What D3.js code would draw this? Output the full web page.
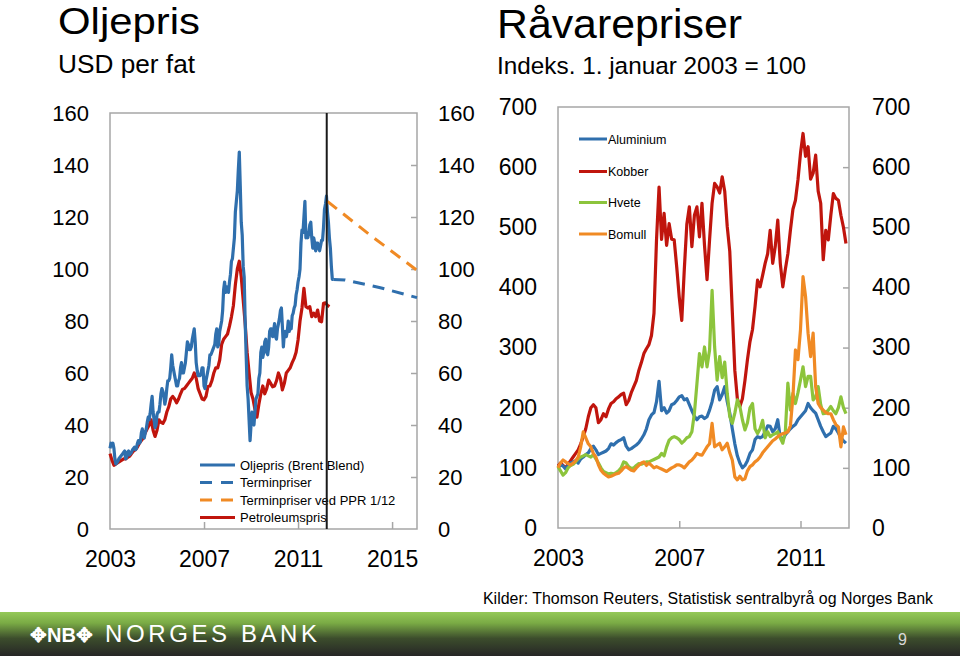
<!DOCTYPE html>
<html><head><meta charset="utf-8">
<script src="https://cdn.jsdelivr.net/npm/d3@7"></script>
<style>
body{margin:0;background:#fff}
svg{display:block}
text{font-family:"Liberation Sans",Arial,sans-serif;fill:#000}
</style>
</head><body>
<svg id="c" width="960" height="656"></svg>
<script>
// ---------------- DATA ----------------
// Left chart: Oljepris (Brent Blend), USD per fat, semi-monthly from Jan 2003
const brentStart = 2003, brentStep = 1/24;
const brent = [
 31,33,32,33,31,27,25,25.5,26,27,27.5,28,28.5,29,29.5,30,27,27.5,29.5,30,28.5,29,29.5,30.5,
 31,31.5,30.5,31,33,34,33,33.5,37,38.5,36,35,37,38.5,41,43,42,44.5,48,51,45,42,39,40,
 44,45,45,48,52,54,53,51,48,50,54,57,57,58,62,67,63,61,59,57,55,55,57,58,
 62,64,60,60,62,64,68,72,71,69,69,70,73,75,77,72,64,61,59,59,59,60,62,62,
 55,54,57,59,61,63,67,67,68,69,70,71,75,77,70,71,76,78,80,84,92,95,91,93,
 93,91,95,98,103,104,108,112,122,126,130,138,145,132,118,113,101,97,80,67,55,50,42,34,
 40,45,41,40,45,50,51,52,58,60,68,70,66,68,72,73,68,67,70,76,77,77,74,76,
 79,74,73,77,79,81,84,85,78,70,75,76,74,76,80,76,78,77,82,83,85,86,90,92,
 95,97,100,110,115,114,120,126,112,114,112,114,117,118,112,108,112,110,107,110,110,108,107,109,
 111,111,116,123,125,128,122,118,112,108,101,96,96
];
// Petroleumspris, monthly from Jan 2003
const petroStart = 2003, petroStep = 1/12;
const petro = [
 29,26.5,24.5,25,25.5,26,26.5,27,27,27.5,28,29,
 30,30.5,31.5,33,34,35,37,38.5,40,42,38,35.6,
 38,42,41,40.6,42,45,47,50,51,50,48.5,50,
 52,53.7,54,55,56,57,58,60,58,54,52,50,
 49.7,51,54.8,55,57,60,62,62,65,71,73,74,
 75,78,81.6,86,94,100,103,97,88,79,68,60,
 52.5,50,46,43,48,52,55,52,54,57.3,56,54.7,
 55,57,60,58,53.5,56,60,61,62,64,65.6,68,
 72.7,80,85,92.6,85.5,85,85.5,81.7,83,81.7,84.2,80,
 79.7,86.8,87,86,85.5
];
// Terminpriser (forward curve) and Terminpriser ved PPR 1/12
const futDates = [2012.5, 2013.0, 2014.5, 2016.06];
const futValues = [96, 95.8, 92.8, 89];
const pprFutDates = [2012.25, 2014.0, 2016.06];
const pprFutValues = [126, 113.5, 99.5];
const pprDate = 2012.22;

const leftYTicks = [0,20,40,60,80,100,120,140,160];
const leftXTicks = [2003,2007,2011,2015];

// Right chart: Råvarepriser, index 1 Jan 2003 = 100, monthly from Jan 2003
const comStart = 2003, comStep = 1/12;
const aluminium = [
 100,105,103,98,104,108,110,112,108,115,118,122,
 125,132,136,130,122,124,126,128,132,140,138,142,
 145,147,150,136,130,132,135,138,142,148,155,165,
 180,188,192,210,244,195,200,191,195,205,207,212,
 218,220,213,215,205,195,186,180,185,186,182,185,
 196,210,229,235,213,222,235,210,191,165,140,120,
 108,100,104,112,124,130,147,152,150,152,160,170,
 169,160,165,180,150,147,155,160,165,169,172,180,
 185,190,195,207,200,195,191,180,169,160,152,155,
 158,169,165,158,150,145,141
];
const kobber = [
 103,108,104,100,106,112,118,124,130,140,152,165,
 185,200,205,200,175,180,190,185,198,207,210,215,
 218,222,224,205,212,225,235,245,262,275,290,298,
 305,320,357,479,567,480,523,470,506,480,479,434,
 384,345,430,505,534,468,520,534,484,540,470,413,
 479,540,573,567,557,584,560,501,460,360,262,215,
 202,215,245,280,310,330,368,412,401,420,440,456,
 495,440,468,512,440,401,430,456,495,530,545,579,
 623,656,618,634,580,590,620,560,540,446,495,479,
 520,556,548,545,520,500,473
];
const hvete = [
 102,95,88,92,100,104,106,110,115,118,120,122,
 120,118,122,115,108,100,94,92,90,91,90,92,
 95,100,110,108,102,99,100,104,107,106,108,110,
 110,112,114,116,118,124,120,135,146,150,152,150,
 147,141,145,150,152,160,191,240,290,268,301,268,
 296,395,301,246,285,250,276,224,185,174,191,213,
 202,180,163,175,200,207,165,157,165,179,150,160,
 152,155,157,160,150,141,160,241,196,224,207,225,
 246,268,235,252,252,213,218,235,205,190,191,196,
 202,195,190,200,218,200,190
];
const bomull = [
 100,108,113,110,107,105,108,112,118,135,160,150,
 140,135,124,118,105,96,91,88,85,86,88,90,
 91,95,100,102,99,96,95,100,104,108,110,104,
 108,104,100,102,100,98,96,94,97,100,102,105,
 105,103,100,105,110,113,118,124,122,121,128,135,
 140,174,135,138,141,130,135,141,125,113,85,80,
 86,80,82,95,102,105,110,113,118,125,130,135,
 140,145,148,152,155,157,158,160,170,218,296,280,
 330,418,385,324,285,324,235,207,200,196,192,190,
 190,180,172,168,135,168,155
];
const rightYTicks = [0,100,200,300,400,500,600,700];
const rightXTicks = [2003,2007,2011];

const oilLegend = ["Oljepris (Brent Blend)","Terminpriser","Terminpriser ved PPR 1/12","Petroleumspris"];
const comLegend = ["Aluminium","Kobber","Hvete","Bomull"];

// ---------------- STYLE ----------------
const C = {blue:"#2f6fad", red:"#c0150d", orange:"#f08a24", green:"#8cc43c", axis:"#a6a6a6"};
const svg = d3.select("#c");

const defs = svg.append("defs");
const g1 = defs.append("linearGradient").attr("id","band").attr("x1",0).attr("y1",0).attr("x2",0).attr("y2",1);
g1.append("stop").attr("offset","0%").attr("stop-color","#95c958");
g1.append("stop").attr("offset","25%").attr("stop-color","#7aab45");
g1.append("stop").attr("offset","60%").attr("stop-color","#3c4d2c");
g1.append("stop").attr("offset","100%").attr("stop-color","#262626");

// ---------------- TITLES ----------------
svg.append("text").attr("x",58).attr("y",34).attr("font-size",37)
  .attr("textLength",142).attr("lengthAdjust","spacingAndGlyphs").text("Oljepris");
svg.append("text").attr("x",58).attr("y",73).attr("font-size",25.5)
  .attr("textLength",137).attr("lengthAdjust","spacingAndGlyphs").text("USD per fat");
svg.append("text").attr("x",497).attr("y",38).attr("font-size",40)
  .attr("textLength",245).attr("lengthAdjust","spacingAndGlyphs").text("Råvarepriser");
svg.append("text").attr("x",497).attr("y",74).attr("font-size",24.3)
  .attr("textLength",309).attr("lengthAdjust","spacingAndGlyphs").text("Indeks. 1. januar 2003 = 100");

// ---------------- LEFT CHART ----------------
const L = {x0:110, x1:417, y0:113, y1:529};
const xL = d3.scaleLinear().domain([2003, 2016.06]).range([L.x0, L.x1]);
const yL = d3.scaleLinear().domain([0,160]).range([L.y1, L.y0]);
const FONT = "Liberation Sans, Arial, sans-serif";

const gl = svg.append("g");
gl.append("g").attr("transform",`translate(${L.x1},0)`)
  .call(d3.axisRight(yL).tickValues(leftYTicks.slice(1,-1)).tickSize(-6).tickFormat(""))
  .call(g=>{g.select(".domain").remove(); g.selectAll("line").attr("stroke",C.axis).attr("stroke-width",1.5);});
gl.append("g").attr("transform",`translate(0,${L.y1})`)
  .call(d3.axisBottom(xL).tickValues(leftXTicks.slice(1)).tickSize(-7).tickFormat(""))
  .call(g=>{g.select(".domain").remove(); g.selectAll("line").attr("stroke",C.axis).attr("stroke-width",1.5);});
gl.append("rect").attr("x",L.x0).attr("y",L.y0).attr("width",L.x1-L.x0).attr("height",L.y1-L.y0)
  .attr("fill","none").attr("stroke",C.axis).attr("stroke-width",1.5);
gl.append("g").attr("transform",`translate(89,0)`)
  .call(d3.axisLeft(yL).tickValues(leftYTicks).tickSize(0).tickPadding(0))
  .call(g=>{g.select(".domain").remove(); g.selectAll("text").attr("font-size",22).attr("font-family",FONT).attr("fill","#000");});
gl.append("g").attr("transform",`translate(438,0)`)
  .call(d3.axisRight(yL).tickValues(leftYTicks).tickSize(0).tickPadding(0))
  .call(g=>{g.select(".domain").remove(); g.selectAll("text").attr("font-size",22).attr("font-family",FONT).attr("fill","#000");});
gl.append("g").attr("transform",`translate(0,${L.y1})`)
  .call(d3.axisBottom(xL).tickValues(leftXTicks).tickFormat(d3.format("d")).tickSize(0).tickPadding(21.5))
  .call(g=>{g.select(".domain").remove(); g.selectAll("text").attr("font-size",23).attr("font-family",FONT).attr("fill","#000");});

const lineL = d3.line().x(d=>xL(d[0])).y(d=>yL(d[1]));
const brentPts = brent.map((v,i)=>[brentStart+i*brentStep, v]);
const petroPts = petro.map((v,i)=>[petroStart+i*petroStep, v]);
const futPts = futDates.map((d,i)=>[d, futValues[i]]);
const pprPts = pprFutDates.map((d,i)=>[d, pprFutValues[i]]);

gl.append("path").attr("d",lineL(petroPts)).attr("fill","none").attr("stroke",C.red).attr("stroke-width",3.2).attr("stroke-linejoin","round");
gl.append("path").attr("d",lineL(brentPts)).attr("fill","none").attr("stroke",C.blue).attr("stroke-width",3.2).attr("stroke-linejoin","round");
gl.append("path").attr("d",lineL(futPts)).attr("fill","none").attr("stroke",C.blue).attr("stroke-width",3).attr("stroke-dasharray","12,8");
gl.append("path").attr("d",lineL(pprPts)).attr("fill","none").attr("stroke",C.orange).attr("stroke-width",3).attr("stroke-dasharray","12,8");

const legL = gl.append("g");
const legStyles = [
  {c:C.blue, dash:null},
  {c:C.blue, dash:"12,9"},
  {c:C.orange, dash:"12,9"},
  {c:C.red, dash:null}
];
const legLY = [465, 482.5, 500, 517.5];
oilLegend.forEach((t,i)=>{
  legL.append("line").attr("x1",200).attr("x2",235).attr("y1",legLY[i]).attr("y2",legLY[i])
    .attr("stroke",legStyles[i].c).attr("stroke-width",3).attr("stroke-dasharray",legStyles[i].dash);
  legL.append("text").attr("x",240).attr("y",legLY[i]).attr("dy","0.36em").attr("font-size",13).text(t);
});

gl.append("line").attr("x1",xL(pprDate)).attr("x2",xL(pprDate)).attr("y1",L.y0).attr("y2",L.y1)
  .attr("stroke","#1a1a1a").attr("stroke-width",2);

// ---------------- RIGHT CHART ----------------
const R = {x0:558, x1:849, y0:107, y1:528};
const xR = d3.scaleLinear().domain([2003, 2012.6]).range([R.x0, R.x1]);
const yR = d3.scaleLinear().domain([0,700]).range([R.y1, R.y0]);
const gr = svg.append("g");

gr.append("g").attr("transform",`translate(${R.x1},0)`)
  .call(d3.axisRight(yR).tickValues(rightYTicks.slice(1,-1)).tickSize(-6).tickFormat(""))
  .call(g=>{g.select(".domain").remove(); g.selectAll("line").attr("stroke",C.axis).attr("stroke-width",1.5);});
gr.append("g").attr("transform",`translate(0,${R.y1})`)
  .call(d3.axisBottom(xR).tickValues(rightXTicks.slice(1)).tickSize(-7).tickFormat(""))
  .call(g=>{g.select(".domain").remove(); g.selectAll("line").attr("stroke",C.axis).attr("stroke-width",1.5);});
gr.append("rect").attr("x",R.x0).attr("y",R.y0).attr("width",R.x1-R.x0).attr("height",R.y1-R.y0)
  .attr("fill","none").attr("stroke",C.axis).attr("stroke-width",1.5);
gr.append("g").attr("transform",`translate(537,0)`)
  .call(d3.axisLeft(yR).tickValues(rightYTicks).tickSize(0).tickPadding(0))
  .call(g=>{g.select(".domain").remove(); g.selectAll("text").attr("font-size",23).attr("font-family",FONT).attr("fill","#000");});
gr.append("g").attr("transform",`translate(872,0)`)
  .call(d3.axisRight(yR).tickValues(rightYTicks).tickSize(0).tickPadding(0))
  .call(g=>{g.select(".domain").remove(); g.selectAll("text").attr("font-size",23).attr("font-family",FONT).attr("fill","#000");});
gr.append("g").attr("transform",`translate(0,${R.y1})`)
  .call(d3.axisBottom(xR).tickValues(rightXTicks).tickFormat(d3.format("d")).tickSize(0).tickPadding(22))
  .call(g=>{g.select(".domain").remove(); g.selectAll("text").attr("font-size",23).attr("font-family",FONT).attr("fill","#000");});

const lineR = d3.line().x(d=>xR(d[0])).y(d=>yR(d[1]));
const series = [
  {name:comLegend[0], vals:aluminium, c:C.blue},
  {name:comLegend[1], vals:kobber, c:C.red},
  {name:comLegend[2], vals:hvete, c:C.green},
  {name:comLegend[3], vals:bomull, c:C.orange}
];
[1,0,2,3].forEach(k=>{
  const s = series[k];
  gr.append("path").attr("d",lineR(s.vals.map((v,i)=>[comStart+i*comStep, v])))
    .attr("fill","none").attr("stroke",s.c).attr("stroke-width",3.2).attr("stroke-linejoin","round");
});
const legRY = [139, 171.5, 202.5, 234];
series.forEach((s,i)=>{
  gr.append("line").attr("x1",579).attr("x2",607).attr("y1",legRY[i]).attr("y2",legRY[i])
    .attr("stroke",s.c).attr("stroke-width",3);
  gr.append("text").attr("x",608).attr("y",legRY[i]).attr("dy","0.36em").attr("font-size",12.5).text(s.name);
});

// ---------------- SOURCE & FOOTER ----------------
svg.append("text").attr("x",483).attr("y",604).attr("font-size",16)
  .attr("textLength",450).attr("lengthAdjust","spacingAndGlyphs")
  .text("Kilder: Thomson Reuters, Statistisk sentralbyrå og Norges Bank");

svg.append("rect").attr("x",0).attr("y",612).attr("width",960).attr("height",44).attr("fill","url(#band)");
svg.append("text").attr("x",30).attr("y",642).attr("font-size",20).attr("font-weight","bold")
  .attr("font-family","DejaVu Sans, sans-serif").style("fill","#fff").text("✥NB✥");
svg.append("text").attr("x",105).attr("y",642).attr("font-size",24).attr("letter-spacing","3.6px")
  .attr("font-family","Lato, 'Open Sans', sans-serif").style("fill","#fff").text("NORGES BANK");
svg.append("text").attr("x",898).attr("y",645).attr("font-size",16).style("fill","#d8d8d8").text("9");
</script>
</body></html>
